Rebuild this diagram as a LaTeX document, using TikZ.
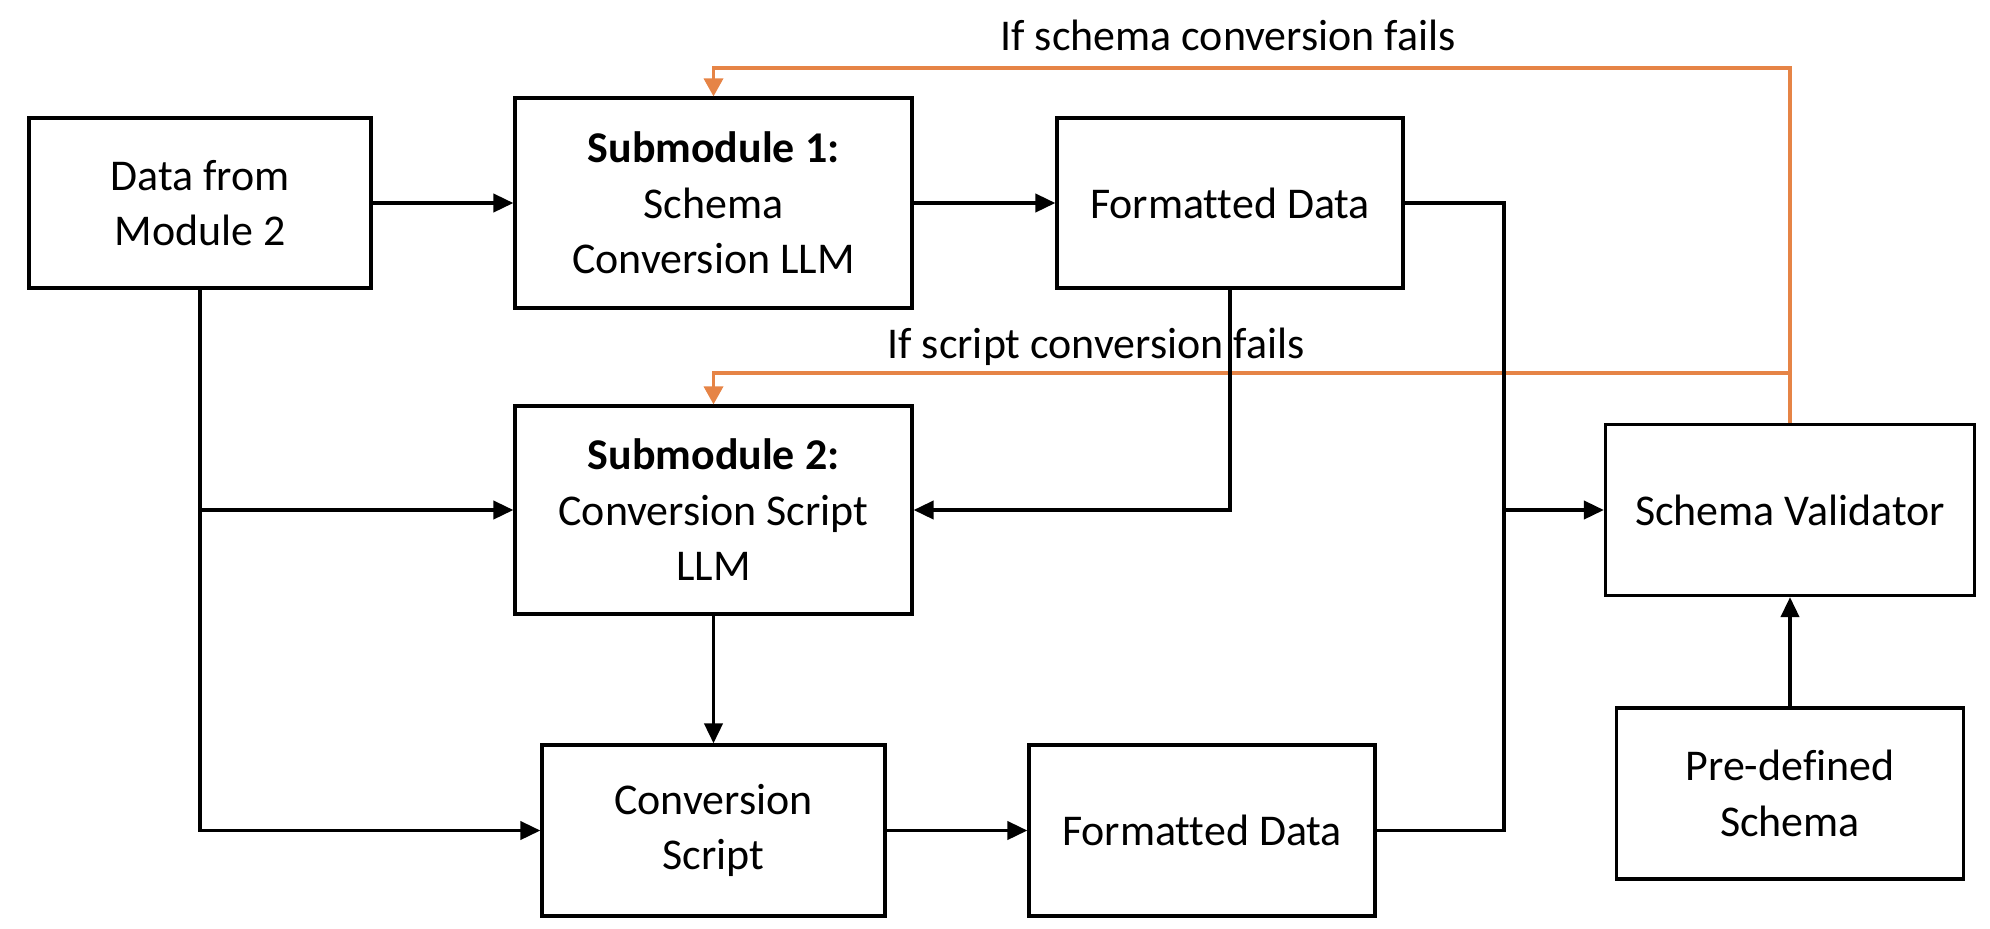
\documentclass[tikz,border=0pt]{standalone}
\usepackage{fontspec}
\setmainfont[Ligatures=NoCommon]{Carlito}
\usepackage{tikz}
\usetikzlibrary{positioning,arrows.meta}
\definecolor{failorange}{RGB}{230,132,70}

\begin{document}
\begin{tikzpicture}[x=0.1mm,y=-0.1mm,
    box/.style={draw,line width=0.9pt,align=center,inner sep=0pt,font=\fontsize{12.5}{15.8}\selectfont},
    conn/.style={line width=1.1pt},
    arr/.style={conn,-{Triangle[length=2mm,width=1.8mm]}},
    failarr/.style={draw=failorange,line width=1pt,-{Triangle[length=1.8mm,width=1.9mm,fill=failorange]}},
    faillabel/.style={anchor=base,font=\fontsize{12.5}{15.8}\selectfont}]
    % Fix page size
    \useasboundingbox (0,0) rectangle (1990,928);

    % Draw boxes
    \node[box,minimum width=34.2mm,minimum height=17mm] (data) at (200,203) {Data from\\Module 2};
    \node[box,minimum width=39.7mm,minimum height=21mm] (sub1) at (713.5,203) {\textbf{Submodule 1:}\\Schema\\Conversion LLM};
    \node[box,minimum width=34.6mm,minimum height=17mm] (fd1) at (1230,203) {Formatted Data};
    \node[box,minimum width=39.7mm,minimum height=20.8mm] (sub2) at (713.5,510) {\textbf{Submodule 2:}\\Conversion Script\\LLM};
    \node[box,minimum width=34.3mm,minimum height=17.1mm] (cs) at (713.5,830.5) {Conversion\\Script};
    \node[box,minimum width=34.6mm,minimum height=17.1mm] (fd2) at (1202,830.5) {Formatted Data};
    \node[box,minimum width=36.9mm,minimum height=17.1mm] (val) at (1790,510) {Schema Validator};
    \node[box,minimum width=34.7mm,minimum height=17.1mm] (pre) at (1790,793.5) {Pre-defined\\Schema};

    % Draw failure labels
    \node[faillabel] (lbl1) at (1228,50) {If schema conversion fails};
    \node[faillabel] (lbl2) at (1096,358) {If script conversion fails};

    % Draw failure loops
    \coordinate (fail1) at (1790,68);
    \coordinate (fail2) at (1790,373);
    \draw[failarr] (val.north) -- (fail1) -| (sub1.north);
    \draw[failarr] (fail2) -| (sub2.north);

    % Draw data flow
    \coordinate (bus) at (1504,510);
    \draw[arr] (data) -- (sub1);
    \draw[arr] (sub1) -- (fd1);
    \draw[arr] (data.south) |- (sub2.west);
    \draw[arr] (data.south) |- (cs.west);
    \draw[arr] (fd1.south) |- (sub2.east);
    \draw[arr] (sub2) -- (cs);
    \draw[arr] (cs) -- (fd2);
    \draw[conn] (fd1.east) -| (bus);
    \draw[conn] (fd2.east) -| (bus);
    \draw[arr] (bus) -- (val);
    \draw[arr] (pre) -- (val);
\end{tikzpicture}
\end{document}
